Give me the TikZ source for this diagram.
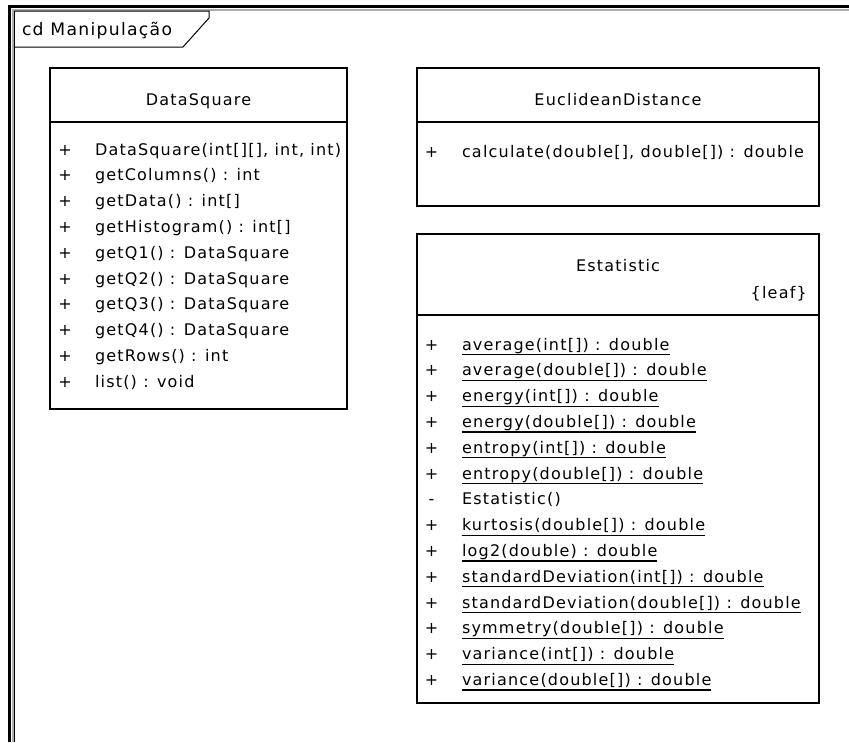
\documentclass[tikz,border=0pt]{standalone}
\usepackage{fontspec}
\setmainfont{DejaVu Sans}[LetterSpace=7.5]
\begin{document}
\begin{tikzpicture}[x=1pt,y=-1pt,
  boxline/.style={line width=1.3pt},
  classbox/.style={draw, boxline, anchor=north west, inner sep=0pt, outer sep=0pt},
  txt/.style={inner sep=0pt, outer sep=0pt, anchor=base west, font=\fontsize{16}{19}\selectfont},
  vis/.style={inner sep=0pt, outer sep=0pt, anchor=base, font=\fontsize{16}{19}\selectfont},
  title/.style={inner sep=0pt, outer sep=0pt, anchor=base, font=\fontsize{16}{19}\selectfont},
  uline/.style={line width=1.2pt}]
\useasboundingbox (0,0) rectangle (849,742);
\fill[white] (0,0) rectangle (849,742);

% diagram frame
\draw[line width=3pt] (9,742) -- (9,6) -- (849,6);
\draw[gray!65, line width=2pt] (12.5,742) -- (12.5,10) -- (849,10);
\draw[line width=1pt] (14.5,742) -- (14.5,11);

% frame label tab
\coordinate (tabA) at (14.5,11);
\coordinate (tabB) at (209,11);
\coordinate (tabC) at (209,18);
\coordinate (tabD) at (183,47);
\coordinate (tabE) at (14.5,47);
\draw[line width=1pt] (tabA) -- (tabB) -- (tabC) -- (tabD) -- (tabE);
\node[txt, font=\fontsize{17.2}{20}\selectfont] (tablabel) at (22,35) {cd Manipulação};

% ---- DataSquare ----
\node[classbox, minimum width=297pt, minimum height=341pt] (ds) at (50,68) {};
\draw[boxline] (ds.west |- 0,122) -- (ds.east |- 0,122);
\node[title] (dsname) at (198.5,105) {DataSquare};
\foreach \i/\t in {0/{DataSquare(int[][], int, int)},1/{getColumns() : int},2/{getData() : int[]},
  3/{getHistogram() : int[]},4/{getQ1() : DataSquare},5/{getQ2() : DataSquare},
  6/{getQ3() : DataSquare},7/{getQ4() : DataSquare},8/{getRows() : int},9/{list() : void}}{
  \node[vis] (dsv\i) at (65,155+25.8*\i) {+};
  \node[txt] (dsop\i) at (95,155+25.8*\i) {\t};
}

% ---- EuclideanDistance ----
\node[classbox, minimum width=402pt, minimum height=138pt] (ed) at (417,68) {};
\draw[boxline] (ed.west |- 0,122) -- (ed.east |- 0,122);
\node[title] (edname) at (618,105) {EuclideanDistance};
\node[vis] (edv) at (431.5,157) {+};
\node[txt] (edop) at (462,157) {calculate(double[], double[]) : double};

% ---- Estatistic ----
\node[classbox, minimum width=402pt, minimum height=469pt] (es) at (417,234) {};
\draw[boxline] (es.west |- 0,315) -- (es.east |- 0,315);
\node[title] (esname) at (618,271) {Estatistic};
\node[inner sep=0pt, anchor=base east, font=\fontsize{16}{19}\selectfont] (esleaf) at (807,298) {\{leaf\}};
\foreach \i/\v/\u/\t in {0/+/1/{average(int[]) : double},1/+/1/{average(double[]) : double},
  2/+/1/{energy(int[]) : double},3/+/1/{energy(double[]) : double},
  4/+/1/{entropy(int[]) : double},5/+/1/{entropy(double[]) : double},
  6/-/0/{Estatistic()},7/+/1/{kurtosis(double[]) : double},
  8/+/1/{log2(double) : double},9/+/1/{standardDeviation(int[]) : double},
  10/+/1/{standardDeviation(double[]) : double},11/+/1/{symmetry(double[]) : double},
  12/+/1/{variance(int[]) : double},13/+/1/{variance(double[]) : double}}{
  \node[vis] (esv\i) at (431.5,350+25.8*\i) {\v};
  \node[txt] (esop\i) at (462,350+25.8*\i) {\t};
  \ifnum\u=1
    \draw[uline] ([yshift=-4.5pt]esop\i.base west) -- ([yshift=-4.5pt]esop\i.base east);
  \fi
}
\end{tikzpicture}
\end{document}
